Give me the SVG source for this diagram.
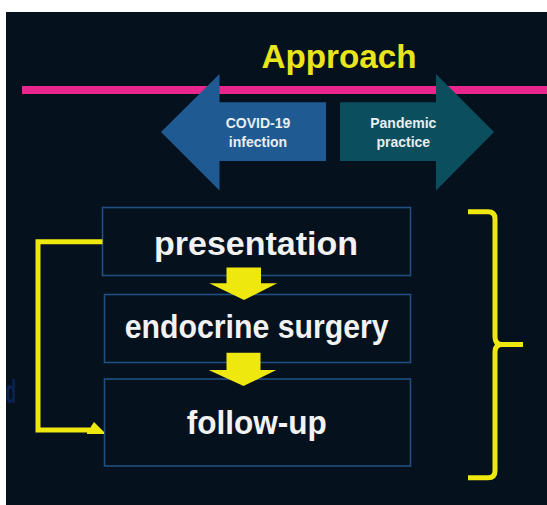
<svg xmlns="http://www.w3.org/2000/svg" width="547" height="505" viewBox="0 0 547 505">
  <style>
    .lbl { font-family: "Liberation Sans", Arial, sans-serif; font-weight: bold; fill: #ffffff; text-anchor: middle; }
    .small { font-size: 14px; fill: #e8eef2; }
    .big { font-size: 34px; fill: #f2f2f2; }
    .box { fill: none; stroke: #1f4f80; stroke-width: 1.6; }
    .yel { fill: #eee80e; }
    .yline { fill: none; stroke: #eee80e; stroke-width: 5; }
  </style>
  <rect x="0" y="0" width="547" height="505" fill="#ffffff"/>
  <rect x="6" y="12" width="541" height="493" fill="#06111e"/>
  <text x="6" y="403" font-family="Liberation Sans, Arial, sans-serif" font-weight="bold" font-size="34" fill="#0c2454" textLength="10" lengthAdjust="spacingAndGlyphs">d</text>

  <g id="title">
    <text x="339" y="68" font-family="Liberation Sans, Arial, sans-serif" font-weight="bold" font-size="34" fill="#e8e61a" text-anchor="middle" textLength="155" lengthAdjust="spacingAndGlyphs">Approach</text>
  </g>
  <rect id="timeline" x="22" y="86" width="525" height="8" fill="#e8268c"/>

  <g id="covid">
    <polygon points="161,132 219.5,74 219.5,102.3 326,102.3 326,161 219.5,161 219.5,190.5" fill="#1f5a93"/>
    <text class="lbl small" x="258" y="127.7">COVID-19</text>
    <text class="lbl small" x="258" y="146.7">infection</text>
  </g>
  <g id="pandemic">
    <polygon points="340,102.3 436,102.3 436,74 494,132 436,190.5 436,161 340,161" fill="#0b4f5e"/>
    <text class="lbl small" x="403.3" y="127.7">Pandemic</text>
    <text class="lbl small" x="403.3" y="146.5">practice</text>
  </g>

  <g id="presentation">
    <rect class="box" x="102.5" y="207.5" width="308" height="68"/>
    <text class="lbl big" x="256" y="255">presentation</text>
  </g>
  <g id="endocrine-surgery">
    <rect class="box" x="104.5" y="294.5" width="306" height="68"/>
    <text class="lbl big" x="256.7" y="338.3" textLength="264" lengthAdjust="spacingAndGlyphs">endocrine surgery</text>
  </g>
  <g id="follow-up">
    <rect class="box" x="104.5" y="379" width="306" height="87"/>
    <text class="lbl big" x="256.7" y="434.3" textLength="140" lengthAdjust="spacingAndGlyphs">follow-up</text>
  </g>

  <g id="connectors">
    <polygon class="yel" points="226.5,267.5 261,267.5 261,283.3 277.3,283.3 244,300 209.3,283.3 226.5,283.3"/>
    <polygon class="yel" points="226.5,352.7 260.5,352.7 260.5,370 276.3,370 243.5,386 208.6,370 226.5,370"/>
    <polyline class="yline" points="102.5,241.8 38,241.8 38,430 90,430"/>
    <polygon class="yel" points="87,432.5 94,422 104,432 104,434 87,434"/>
    <path class="yline" stroke-width="6" d="M468,211.7 H488 Q495,211.7 495,218.7 V337 Q495,344.5 502,344.5 H523 M502,344.5 Q495,344.5 495,352 V470.7 Q495,477.7 488,477.7 H468"/>
  </g>
</svg>
